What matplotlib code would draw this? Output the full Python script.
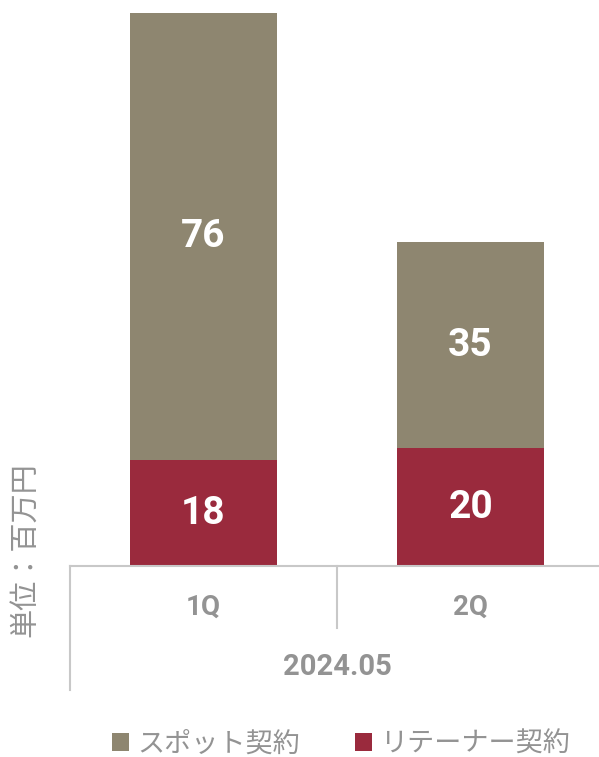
import matplotlib
matplotlib.use("Agg")
import matplotlib.pyplot as plt
import matplotlib.transforms as mtransforms
import numpy as np

# Data
quarters = ["1Q", "2Q"]
period_label = "2024.05"
retainer = [18, 20]
spot = [76, 35]
series_names = ["スポット契約", "リテーナー契約"]
unit_label = "単位：百万円"

spot_color = "#8E8670"
retainer_color = "#9A2A3D"
grid_gray = "#C8C8C8"
text_gray = "#939393"

plt.rcParams["font.family"] = ["Noto Sans CJK JP", "DejaVu Sans"]

W, H = 599, 757
fig = plt.figure(figsize=(W / 100, H / 100), dpi=100)

# Axes in pixel terms: left 70, right 604, baseline 566 (from top), top 13
ax_left, ax_right, ax_base, ax_top = 70, 604, 566, 13
ax = fig.add_axes([ax_left / W, (H - ax_base) / H,
                   (ax_right - ax_left) / W, (ax_base - ax_top) / H])

x = np.arange(len(quarters))
bar_w = 0.55
b1 = ax.bar(x, retainer, width=bar_w, color=retainer_color, label=series_names[1])
b2 = ax.bar(x, spot, width=bar_w, bottom=retainer, color=spot_color, label=series_names[0])

total_max = max(r + s for r, s in zip(retainer, spot))
ax.set_xlim(-0.5, len(quarters) - 0.5)
ax.set_ylim(0, total_max)

# Value labels centred in each segment
for i in range(len(quarters)):
    ax.text(x[i], retainer[i] / 2, f"{retainer[i]}", ha="center", va="center",
            color="white", fontsize=28, fontweight="bold", family="Roboto")
    ax.text(x[i], retainer[i] + spot[i] / 2, f"{spot[i]}", ha="center", va="center",
            color="white", fontsize=28, fontweight="bold", family="Roboto")

for side in ["top", "right", "left"]:
    ax.spines[side].set_visible(False)
ax.spines["bottom"].set_color(grid_gray)
ax.spines["bottom"].set_linewidth(1.5)
ax.set_yticks([])
ax.set_xticks(x)
ax.set_xticklabels(quarters, fontsize=20, fontweight="bold", color=text_gray, family="Roboto")
ax.tick_params(axis="x", length=0, pad=20)

# Category separators below the axis
axis_h = ax_base - ax_top
trans = mtransforms.blended_transform_factory(ax.transData, ax.transAxes)
outer_y = -(690 - ax_base) / axis_h
inner_y = -(628 - ax_base) / axis_h
ax.plot([-0.5, -0.5], [0, outer_y], transform=trans, color=grid_gray, lw=1.5, clip_on=False)
ax.plot([0.5, 0.5], [0, inner_y], transform=trans, color=grid_gray, lw=1.5, clip_on=False)

# Group label
ax.text(0.5, -(667 - ax_base) / axis_h, period_label, transform=trans, ha="center",
        va="center", fontsize=21, fontweight="bold", color=text_gray, family="Roboto")

# Unit label
fig.text(25 / W, 1 - 550 / H, unit_label, rotation=90, ha="center", va="center",
         fontsize=21, color=text_gray)

# Legend
leg = fig.legend(handles=[b2, b1], labels=series_names, loc="center",
                 bbox_to_anchor=(341 / W, 1 - 744 / H), ncol=2, frameon=False,
                 fontsize=19.5, handlelength=0.65, handleheight=0.65,
                 handletextpad=0.3, columnspacing=2.0, borderaxespad=0)
for t in leg.get_texts():
    t.set_color(text_gray)

fig.savefig("out.png", dpi=100)
